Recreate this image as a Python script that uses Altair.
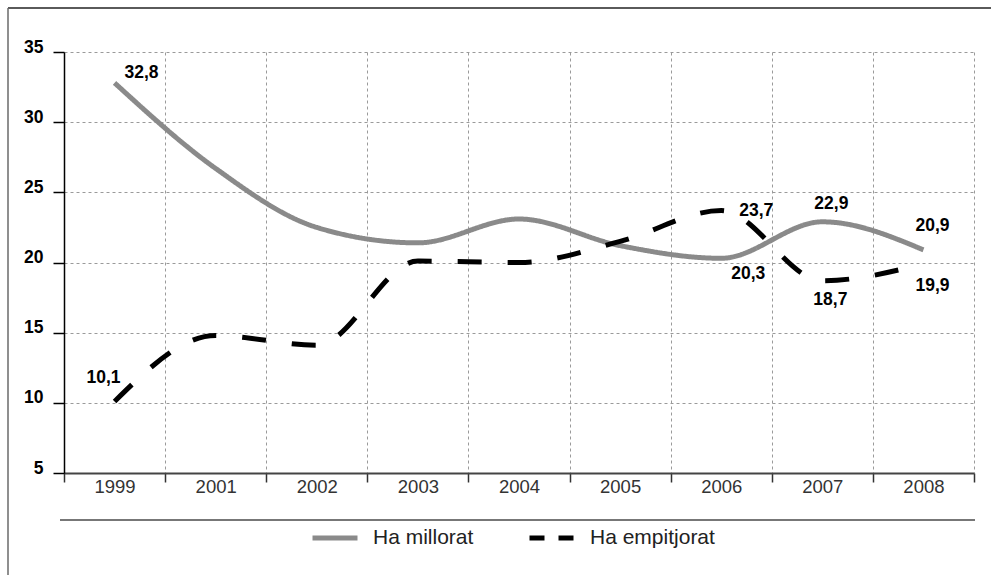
import altair as alt
import pandas as pd

# Survey series, one value per year
YEARS = ["1999", "2001", "2002", "2003", "2004", "2005", "2006", "2007", "2008"]
MILLORAT = [32.8, 26.7, 22.5, 21.4, 23.1, 21.2, 20.3, 22.9, 20.9]
EMPITJORAT = [10.1, 14.8, 14.1, 20.1, 20.0, 21.5, 23.7, 18.7, 19.9]
SERIES = ["Ha millorat", "Ha empitjorat"]
Y_TICKS = [5, 10, 15, 20, 25, 30, 35]

# Points that carry a value label, with the label's offset from the point (px)
LABEL_OFFSETS = {
    ("Ha millorat", "1999"): (27, -10),
    ("Ha empitjorat", "1999"): (-11, -23),
    ("Ha empitjorat", "2006"): (35, 0),
    ("Ha millorat", "2006"): (27, 16),
    ("Ha millorat", "2007"): (9, -18),
    ("Ha empitjorat", "2007"): (8, 19),
    ("Ha millorat", "2008"): (9, -24),
    ("Ha empitjorat", "2008"): (9, 22),
}

df = pd.DataFrame({
    "any": YEARS * 2,
    "serie": [SERIES[0]] * len(YEARS) + [SERIES[1]] * len(YEARS),
    "valor": MILLORAT + EMPITJORAT,
})
df["etiqueta"] = df["valor"].map(lambda v: f"{v:.1f}".replace(".", ","))

FONT = "Liberation Sans"
GRID = dict(grid=True, gridDash=[3, 3], gridColor="#9a9a9a", gridWidth=1)
LINE_DASH = {SERIES[0]: [1, 0], SERIES[1]: [24, 26]}

x_enc = alt.X(
    "any:O",
    sort=YEARS,
    scale=alt.Scale(type="band", paddingInner=0, paddingOuter=0),
    axis=alt.Axis(
        title=None, labelAngle=0, tickBand="extent", tickSize=9, tickWidth=1.5,
        tickColor="#333333", domainColor="#444444", domainWidth=2,
        labelFont=FONT, labelFontSize=18.5, labelColor="#333333",
        labelBaseline="alphabetic", labelPadding=10, **GRID,
    ),
)
y_enc = alt.Y(
    "valor:Q",
    scale=alt.Scale(domain=[5, 35], nice=False, zero=False),
    axis=alt.Axis(
        title=None, values=Y_TICKS, tickSize=11, tickWidth=1.5, tickColor="#000000",
        domainColor="#000000", domainWidth=1.5, labelFont=FONT, labelFontSize=17.5,
        labelFontWeight="bold", labelColor="#000000", labelBaseline="alphabetic",
        labelPadding=10, **GRID,
    ),
)

legend = alt.Legend(
    title=None, orient="none", legendX=246, legendY=461, direction="horizontal",
    symbolType="stroke", symbolSize=2025, symbolStrokeWidth=5, labelOffset=13,
    labelFont=FONT, labelFontSize=21, labelColor="#222222", columnPadding=45,
)
color_enc = alt.Color("serie:N", scale=alt.Scale(domain=SERIES, range=["#8a8a8a", "#000000"]), legend=legend)
# dash pattern used for the legend key only
legend_dash = alt.StrokeDash("serie:N", scale=alt.Scale(domain=SERIES, range=[[1, 0], [15, 14]]), legend=legend)

base = alt.Chart(df)

lines = [
    base.transform_filter(alt.datum.serie == s)
    .mark_line(interpolate="monotone", strokeWidth=5, strokeDash=LINE_DASH[s])
    .encode(x=x_enc, y=y_enc, color=color_enc)
    for s in SERIES
]

# empty layer that carries the legend's dash scale
legend_layer = (
    base.transform_filter("false")
    .mark_line(strokeWidth=5)
    .encode(x=x_enc, y=y_enc, color=color_enc, strokeDash=legend_dash)
)

labels = [
    base.transform_filter((alt.datum.serie == s) & (alt.datum.any == yr))
    .mark_text(dx=dx, dy=dy, font=FONT, fontSize=17.5, fontWeight="bold",
               color="#000000", align="center", baseline="middle")
    .encode(x=x_enc, y=y_enc, text="etiqueta:N")
    for (s, yr), (dx, dy) in LABEL_OFFSETS.items()
]

one = alt.Chart(pd.DataFrame({"k": [0]}))
frame_top = one.mark_rule(color="#5a5a5a", strokeWidth=2).encode(
    x=alt.value(-56), x2=alt.value(927), y=alt.value(-44))
frame_left = one.mark_rule(color="#6a6a6a", strokeWidth=1.5).encode(
    x=alt.value(-56), y=alt.value(-44), y2=alt.value(523))
separator = one.mark_rule(color="#777777", strokeWidth=2).encode(
    x=alt.value(-4), x2=alt.value(911), y=alt.value(468))

chart = alt.layer(
    frame_top, frame_left, separator, legend_layer, *lines, *labels
).properties(
    width=910, height=421,
    autosize=alt.AutoSizeParams(type="none"),
    padding={"left": 64, "top": 52, "right": 17, "bottom": 102},
    background="#ffffff",
).configure_view(stroke=None)

chart.save("out.html", embed_options={"renderer": "svg", "actions": False})
